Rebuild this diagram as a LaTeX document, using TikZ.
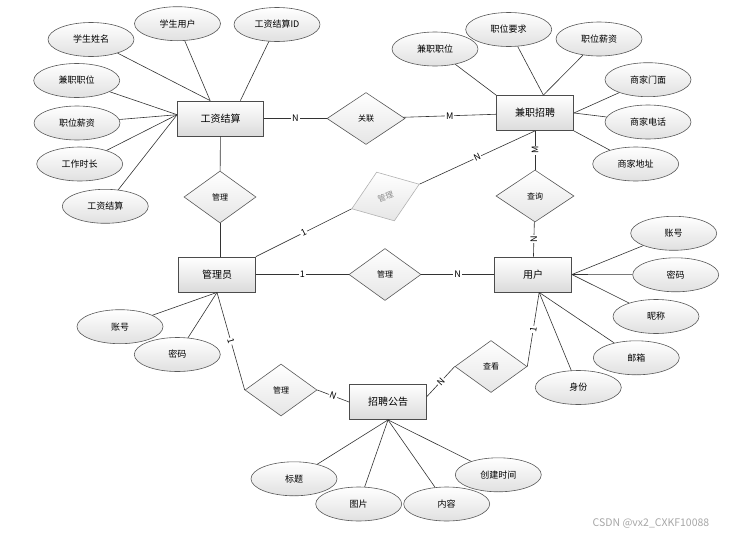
\documentclass[tikz,border=0pt]{standalone}
\usepackage{fontspec}
\setmainfont{Noto Sans CJK SC}
\usetikzlibrary{shapes}

\begin{document}
\begin{tikzpicture}[x=1pt,y=-1pt]
		\tikzstyle {entity box} = [rectangle, draw=black!70, line width=0.8pt, top color=white, bottom color=black!14, minimum width=77pt, minimum height=35pt, inner sep=0pt, font=\fontsize{10}{12}\selectfont]
		\tikzstyle {attribute} = [ellipse, draw=black!65, line width=0.6pt, top color=white, bottom color=black!12, minimum width=86pt, minimum height=34pt, inner sep=0pt, font=\fontsize{9}{11}\selectfont]
		\tikzstyle {relation} = [diamond, draw=black!65, line width=0.6pt, top color=white, bottom color=black!10, minimum width=72pt, minimum height=52pt, inner sep=0pt, font=\fontsize{8}{10}\selectfont]
		\tikzstyle {link} = [draw=black!80, line width=0.6pt]
		\tikzstyle {card} = [fill=white, inner sep=1pt, font=\fontsize{9}{11}\selectfont]

		\useasboundingbox (0,0) rectangle (740,536);

		\node[entity box, minimum width=86pt] (gz) at (220.5,118.5) {工资结算};
		\node[entity box] (jz) at (535,113) {兼职招聘};
		\node[entity box] (gly) at (217,274.5) {管理员};
		\node[entity box] (yh) at (533,274.5) {用户};
		\node[entity box] (zp) at (388,402) {招聘公告};

		\node[relation, minimum width=78pt] (gl) at (366,118.5) {关联};
		\node[relation] (gl1) at (220,197) {管理};
		\node[relation, draw=black!30, text=black!45, rotate=20] (gl2) at (385.5,196.5) {管理};
		\node[relation, minimum width=78pt] (cx) at (535,196) {查询};
		\node[relation] (gl3) at (385,274.5) {管理};
		\node[relation] (gl4) at (281,390) {管理};
		\node[relation] (ck) at (491,366.5) {查看};

		\node[attribute] (xsxm) at (91,39.5) {学生姓名};
		\node[attribute] (xsyh) at (177.5,23.7) {学生用户};
		\node[attribute] (jsid) at (277,24.5) {工资结算ID};
		\node[attribute] (jzzw) at (76.7,80.5) {兼职职位};
		\node[attribute] (zwxz) at (77,123) {职位薪资};
		\node[attribute] (gzsc) at (79.7,164) {工作时长};
		\node[attribute] (gzjs) at (105.3,206.3) {工资结算};

		\node[attribute] (jzzw2) at (435,49) {兼职职位};
		\node[attribute] (zwyq) at (508.7,29.5) {职位要求};
		\node[attribute] (zwxz2) at (599,39) {职位薪资};
		\node[attribute] (sjmm) at (648,79.7) {商家门面};
		\node[attribute] (sjdh) at (648,122) {商家电话};
		\node[attribute] (sjdz) at (635.7,164) {商家地址};

		\node[attribute] (zh) at (673.7,233.3) {账号};
		\node[attribute] (mm) at (675.7,274.8) {密码};
		\node[attribute] (nc) at (656,316.5) {昵称};
		\node[attribute] (yx) at (636.3,357.8) {邮箱};
		\node[attribute] (sf) at (578.3,387.5) {身份};

		\node[attribute] (zh2) at (120,326.7) {账号};
		\node[attribute] (mm2) at (177.3,354.5) {密码};

		\node[attribute] (bt) at (294,478.8) {标题};
		\node[attribute] (tp) at (358.7,504) {图片};
		\node[attribute] (nr) at (446.7,504) {内容};
		\node[attribute] (cjsj) at (498.3,474.8) {创建时间};

		% attributes
		\draw[link] (xsxm) -- (gz.120);
		\draw[link] (xsyh) -- (gz.120);
		\draw[link] (jsid) -- (gz.42);
		\draw[link] (jzzw) -- (gz.175);
		\draw[link] (zwxz) -- (gz.175);
		\draw[link] (gzsc) -- (gz.175);
		\draw[link] (gzjs) -- (gz.175);

		\draw[link] (jzzw2) -- (jz.north west);
		\draw[link] (zwyq) -- (jz.65);
		\draw[link] (zwxz2) -- (jz.65);
		\draw[link] (sjmm) -- (jz.east);
		\draw[link] (sjdh) -- (jz.east);
		\draw[link] (sjdz) -- (jz.south east);

		\draw[link] (zh) -- (yh.east);
		\draw[link] (mm) -- (yh.east);
		\draw[link] (nc) -- (yh.east);
		\draw[link] (yx) -- (yh.-71);
		\draw[link] (sf) -- (yh.-71);

		\draw[link] (zh2) -- (gly.south);
		\draw[link] (mm2) -- (gly.south);

		\draw[link] (bt) -- (zp.south);
		\draw[link] (tp) -- (zp.south);
		\draw[link] (nr) -- (zp.south);
		\draw[link] (cjsj) -- (zp.south);

		% relations
		\draw[link] (gz) -- (gl) node[card, midway] {N};
		\draw[link] (gl) -- (jz) node[card, midway] {M};
		\draw[link] (gz) -- (gl1);
		\draw[link] (gl1.south) -- (gl1.south |- gly.north);
		\draw[link] (gly.north east) -- (gl2.west) node[card, midway, sloped] {1};
		\draw[link] (gl2.east) -- (jz.south) node[card, midway, sloped] {N};
		\draw[link] (jz) -- (cx) node[card, midway, rotate=90] {M};
		\draw[link] (cx) -- (yh) node[card, midway, rotate=90] {N};
		\draw[link] (gly) -- (gl3) node[card, midway] {1};
		\draw[link] (gl3) -- (yh) node[card, midway] {N};
		\draw[link] (gly.south) -- (gl4.west) node[card, midway, sloped] {1};
		\draw[link] (gl4.east) -- (zp.west) node[card, midway, sloped] {N};
		\draw[link] (zp.8) -- (ck.west) node[card, midway, sloped] {N};
		\draw[link] (ck.east) -- (yh.-71) node[card, midway, sloped] {1};

		\node[text=black!35, font=\fontsize{10.5}{12}\selectfont] (wm) at (651,523) {CSDN @vx2\_CXKF10088};
	\end{tikzpicture}
\end{document}
